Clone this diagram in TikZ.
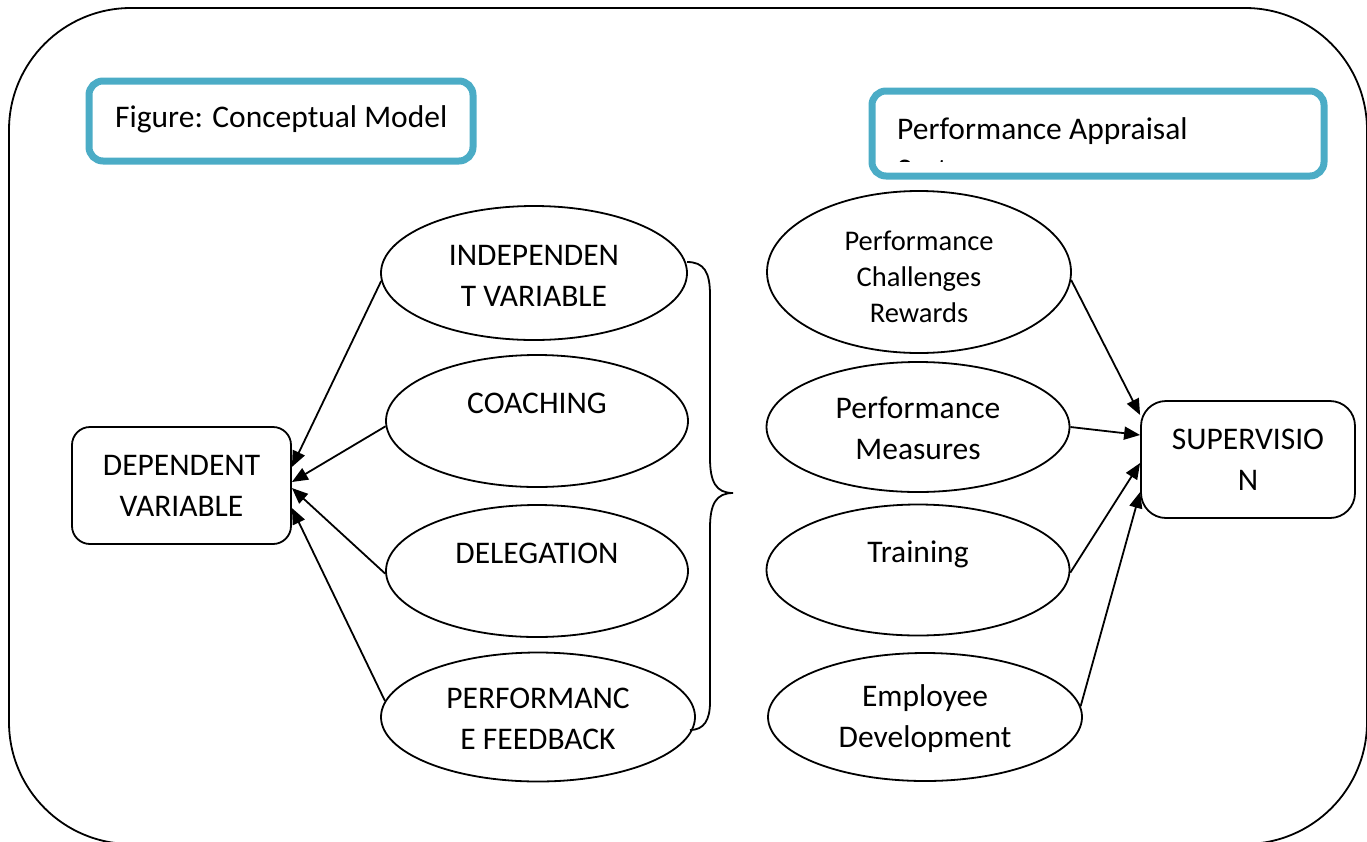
\documentclass[tikz,border=0pt]{standalone}
\usepackage{fontspec}
\setmainfont{Carlito}
\usetikzlibrary{arrows.meta,shapes.geometric}
\definecolor{accent}{HTML}{4BACC6}
\newcommand\myTopStrut{\rule{0pt}{25pt}}
\newcommand\myBigStrut{\rule{0pt}{30pt}}
\begin{document}
\begin{tikzpicture}[x=1pt,y=-1pt,
  txt/.style={font=\fontsize{31.5}{41}\selectfont},
  ell/.style={draw,ellipse,line width=1.8pt,inner sep=0pt,align=center,txt},
  rbox/.style={draw,line width=1.8pt,align=center,inner sep=0pt,txt},
  tbox/.style={draw=accent,rounded corners=14pt,line width=7pt},
  arr/.style={line width=1.8pt,-{Triangle[length=16pt,width=13pt]}}]
\useasboundingbox (0,0) rectangle (1367,841);
% outer frame
\begin{scope}
\clip (0,0) rectangle (1367,841);
\draw[line width=1.8pt, rounded corners=122pt] (9,8) rectangle (1367,844);
\end{scope}
% title boxes
\node[tbox, minimum width=384pt, minimum height=80pt] (figbox) at (281,121) {};
\node[txt, anchor=base west, inner sep=0pt] (figtxt) at (115,127.5) {Figure: Conceptual Model};
\node[tbox, minimum width=452pt, minimum height=85pt] (pabox) at (1098,133.5) {};
\begin{scope}
\clip (872,91) rectangle (1324,161);
\node[txt, anchor=north west, inner sep=0pt, align=left] (patxt) at (897,117) {Performance Appraisal\\System};
\end{scope}
% left ellipses
\node[ell, minimum width=306pt, minimum height=134pt] (ind) at (534,273) {\myTopStrut INDEPENDEN\\T VARIABLE};
\node[ell, minimum width=302pt, minimum height=132pt] (coa) at (537,421) {\myTopStrut COACHING\\\mbox{}};
\node[ell, minimum width=302pt, minimum height=132pt] (del) at (537,571) {\myTopStrut DELEGATION\\\mbox{}};
\node[ell, minimum width=314pt, minimum height=129pt] (pfb) at (538,717) {\myTopStrut PERFORMANC\\E FEEDBACK};
% dependent box
\node[rbox, rounded corners=18pt, minimum width=219pt, minimum height=117pt] (dep) at (181.5,485.5) {DEPENDENT\\VARIABLE};
% right ellipses
\node[ell, font=\fontsize{28.5}{36}\selectfont, minimum width=304pt, minimum height=162pt] (pcr) at (919,272) {\myBigStrut Performance\\Challenges\\Rewards};
\node[ell, minimum width=303pt, minimum height=130pt] (pme) at (918,427) {\myTopStrut Performance\\Measures};
\node[ell, minimum width=303pt, minimum height=131pt] (tra) at (918,570) {\myTopStrut Training\\\mbox{}};
\node[ell, minimum width=314pt, minimum height=128pt] (emp) at (925,717) {\myTopStrut Employee\\Development};
% supervision box
\node[rbox, rounded corners=25pt, minimum width=214pt, minimum height=117pt] (sup) at (1248,459.5) {SUPERVISIO\\N};
% brace
\draw[line width=1.8pt] (687,262) .. controls (704,262) and (710,272) .. (710,295)
  -- (710,458) .. controls (710,482) and (716,493) .. (733,493)
  .. controls (716,493) and (710,504) .. (710,528)
  -- (710,702) .. controls (710,720) and (704,730) .. (690,730);
% arrows left
\draw[arr] (ind.183) -- ([yshift=18.5pt]dep.east);
\draw[arr] (coa.182) -- ([yshift=3.5pt]dep.east);
\draw[arr] (del.181) -- ([yshift=-2.5pt]dep.east);
\draw[arr] (pfb.174) -- ([yshift=-22.5pt]dep.east);
% arrows right
\draw[arr] (pcr.-3) -- ([yshift=44.5pt]sup.west);
\draw[arr] (pme.east) -- ([yshift=24.5pt]sup.west);
\draw[arr] (tra.-1) -- ([yshift=-3.5pt]sup.west);
\draw[arr] (emp.4) -- ([yshift=-32.5pt]sup.west);
\end{tikzpicture}
\end{document}
